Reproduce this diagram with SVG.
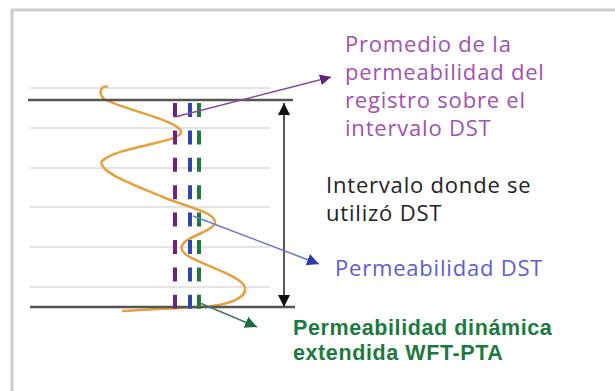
<svg xmlns="http://www.w3.org/2000/svg" width="615" height="391" viewBox="0 0 615 391">
<style>
.frame{fill:none;stroke:#cdcdcd;stroke-width:3}
.grid{stroke:#e4e4e4;stroke-width:2}
.bound{stroke:#555;stroke-width:2.5}
.dash{fill:none;stroke-width:4;stroke-dasharray:14 13.4}
.lbl{font-family:"Open Sans","Noto Sans",sans-serif;font-size:22px;letter-spacing:0.8px}
.lblb{font-family:"Liberation Sans",Arial,sans-serif;font-size:21.5px;font-weight:bold;letter-spacing:0.6px}
</style>
<defs>
<marker id="ahBlack" viewBox="0 0 10 10" refX="10" refY="5" markerWidth="12" markerHeight="12" markerUnits="userSpaceOnUse" orient="auto-start-reverse"><path d="M0,0 L10,5 L0,10 Z" fill="#111"/></marker>
<marker id="ahPurple" viewBox="0 0 10 10" refX="10" refY="5" markerWidth="11" markerHeight="11" markerUnits="userSpaceOnUse" orient="auto"><path d="M0,0 L10,5 L0,10 Z" fill="#6a1f80"/></marker>
<marker id="ahBlue" viewBox="0 0 10 10" refX="10" refY="5" markerWidth="12" markerHeight="12" markerUnits="userSpaceOnUse" orient="auto"><path d="M0,0 L10,5 L0,10 Z" fill="#2e3aa8"/></marker>
<marker id="ahGreen" viewBox="0 0 10 10" refX="10" refY="5" markerWidth="12" markerHeight="12" markerUnits="userSpaceOnUse" orient="auto"><path d="M0,0 L10,5 L0,10 Z" fill="#1c6b3c"/></marker>
</defs>
<rect width="615" height="391" fill="#fff"/>
<path class="frame" d="M12,391 L12,10 L615,10"/>
<g id="grid">
<line class="grid" x1="30" y1="88" x2="270" y2="88"/>
<line class="grid" x1="30" y1="128" x2="270" y2="128"/>
<line class="grid" x1="30" y1="168" x2="270" y2="168"/>
<line class="grid" x1="30" y1="207" x2="270" y2="207"/>
<line class="grid" x1="30" y1="247" x2="270" y2="247"/>
<line class="grid" x1="30" y1="287" x2="270" y2="287"/>
</g>
<g id="log-curve">
<path d="M108,87 C102,85 97,92 104,99 C125,110 176,120 181,131 C185,142 118,146 102,161 C96,172 140,187 165,198 C188,207 217,213 215,223 C212,233 177,238 182,250 C187,262 243,274 245,288 C247,300 222,306 200,307 C180,308 150,309 122,311" fill="none" stroke="#e6a03e" stroke-width="2.5"/>
</g>
<g id="interval-bounds">
<line class="bound" x1="28" y1="100" x2="293" y2="100"/>
<line class="bound" x1="30" y1="307" x2="295" y2="307"/>
</g>
<g id="dst-permeability-lines">
<line class="dash" x1="175" y1="103" x2="175" y2="309" stroke="#6e2283"/>
<line class="dash" x1="190" y1="103" x2="190" y2="309" stroke="#2f45b0"/>
<line class="dash" x1="199" y1="103" x2="199" y2="309" stroke="#1f7a3a" stroke-width="3.5"/>
</g>
<g id="connectors">
<line x1="284" y1="103" x2="284" y2="307" stroke="#555" stroke-width="2" marker-start="url(#ahBlack)" marker-end="url(#ahBlack)"/>
<line x1="175" y1="117" x2="331" y2="77" stroke="#8a4a98" stroke-width="1.6" marker-end="url(#ahPurple)"/>
<line x1="193" y1="216" x2="319" y2="264" stroke="#6a78c4" stroke-width="1.6" marker-end="url(#ahBlue)"/>
<line x1="200" y1="303" x2="257" y2="327" stroke="#4a7a60" stroke-width="1.6" marker-end="url(#ahGreen)"/>
</g>
<g id="label-promedio" class="lbl" fill="#a052b0">
<text x="345" y="52">Promedio de la</text>
<text x="345" y="80">permeabilidad del</text>
<text x="345" y="108">registro sobre el</text>
<text x="345" y="136">intervalo DST</text>
</g>
<g id="label-intervalo" class="lbl" fill="#222">
<text x="326" y="193">Intervalo donde se</text>
<text x="326" y="221">utilizó DST</text>
</g>
<g id="label-dst" class="lbl" fill="#5c5cd4">
<text x="335" y="276">Permeabilidad DST</text>
</g>
<g id="label-wft" class="lblb" fill="#1a7a40">
<text x="293" y="335">Permeabilidad dinámica</text>
<text x="293" y="360">extendida WFT-PTA</text>
</g>
</svg>
